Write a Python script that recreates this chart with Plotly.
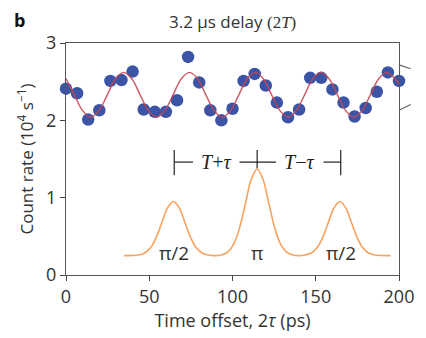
import plotly.graph_objects as go

# ---- data ----
offset_ps = [0, 6.67, 13.33, 20, 26.67, 33.33, 40, 46.67, 53.33, 60, 66.67, 73.33,
             80, 86.67, 93.33, 100, 106.67, 113.33, 120, 126.67, 133.33, 140,
             146.67, 153.33, 160, 166.67, 173.33, 180, 186.67, 193.33, 200]
count_rate = [2.41, 2.35, 2.01, 2.13, 2.51, 2.52, 2.63, 2.14, 2.11, 2.11, 2.26, 2.82,
              2.49, 2.13, 2.00, 2.15, 2.51, 2.60, 2.45, 2.23, 2.04, 2.14,
              2.55, 2.55, 2.40, 2.23, 2.05, 2.16, 2.37, 2.62, 2.51]

# fitted curve
fit_x = [0, 5.0, 10.0, 14.9, 19.8, 24.8, 29.7, 34.6, 39.6, 44.5, 49.5, 54.4, 59.3,
         64.3, 69.2, 74.2, 79.1, 84.0, 89.0, 93.9, 98.8, 103.8, 108.7, 113.7, 118.6,
         123.5, 128.5, 133.4, 138.3, 143.3, 148.2, 153.2, 158.1, 163.0, 168.0, 172.9,
         177.8, 182.8, 187.7, 192.7, 197.6, 200]
fit_y = [2.54, 2.33, 2.125, 2.04, 2.125, 2.33, 2.535, 2.62, 2.535, 2.33, 2.125, 2.04,
         2.125, 2.33, 2.535, 2.62, 2.535, 2.33, 2.125, 2.04, 2.125, 2.33, 2.535, 2.62,
         2.535, 2.33, 2.125, 2.04, 2.125, 2.33, 2.535, 2.62, 2.535, 2.33, 2.125, 2.04,
         2.125, 2.33, 2.535, 2.62, 2.535, 2.47]

# pulse sequence sketch
pulse_x = [35, 43.5, 47, 50.5, 54, 57.5, 61, 64.5, 68, 71.5, 75, 78.5, 82, 85.5,
           89.5, 93.8, 97.3, 100.8, 104.3, 107.8, 111.3, 114.8, 118.3, 121.8, 125.3,
           128.8, 132.3, 135.8, 139.7, 143.5, 147, 150.5, 154, 157.5, 161, 164.5, 168,
           171.5, 175, 178.5, 182, 185.5, 195]
pulse_y = [0.25, 0.258, 0.281, 0.345, 0.477, 0.675, 0.868, 0.95, 0.868, 0.675, 0.477,
           0.345, 0.281, 0.258, 0.25, 0.262, 0.299, 0.402, 0.614, 0.929, 1.238, 1.37,
           1.238, 0.929, 0.614, 0.402, 0.299, 0.262, 0.25, 0.258, 0.281, 0.345, 0.477,
           0.675, 0.868, 0.95, 0.868, 0.675, 0.477, 0.345, 0.281, 0.258, 0.25]

pulse_centers = [65.0, 114.8, 165.0]
pulse_labels = ["π/2", "π", "π/2"]
pulse_label_y = 0.29
bracket_y = 1.46
bracket_top = 1.615
bracket_bottom = 1.29
interval_labels = ["<i>T</i>+<i>τ</i>", "<i>T</i>−<i>τ</i>"]

x_ticks = [0, 50, 100, 150, 200]
y_ticks = [0, 1, 2, 3]

SANS = "Open Sans"
SERIF = "Liberation Serif"

fig = go.Figure()

fig.add_trace(go.Scatter(x=pulse_x, y=pulse_y, mode="lines",
                         line=dict(color="#f7a25f", width=1.6, shape="spline", smoothing=1.0),
                         hoverinfo="skip", showlegend=False))
fig.add_trace(go.Scatter(x=offset_ps, y=count_rate, mode="markers",
                         marker=dict(color="#3b54a6", size=12.5, line=dict(width=0)),
                         cliponaxis=False, showlegend=False))
fig.add_trace(go.Scatter(x=fit_x, y=fit_y, mode="lines",
                         line=dict(color="rgba(200,70,80,0.9)", width=1.4, shape="spline", smoothing=1.0),
                         hoverinfo="skip", showlegend=False))

# bracket T±τ built from the pulse centres
c0, c1, c2 = pulse_centers
shapes = []
for c in (c0, c2):
    shapes.append(dict(type="line", x0=c, x1=c, y0=bracket_bottom, y1=bracket_top,
                       line=dict(color="#222", width=1.2)))
shapes.append(dict(type="line", x0=c1, x1=c1, y0=1.38, y1=bracket_top,
                   line=dict(color="#222", width=1.2)))
segs = [(c0, c0 + 11.3), (c1 - 10.6, c1 + 11.3), (c2 - 10.3, c2)]
for a, b in segs:
    shapes.append(dict(type="line", x0=a, x1=b, y0=bracket_y, y1=bracket_y,
                       line=dict(color="#222", width=1.2)))
# axis-break marks on the right edge
shapes.append(dict(type="line", xref="paper", yref="paper", x0=1.0, x1=1.035,
                   y0=0.906, y1=0.889, line=dict(color="#666", width=1.2)))
shapes.append(dict(type="line", xref="paper", yref="paper", x0=1.0, x1=1.035,
                   y0=0.71, y1=0.735, line=dict(color="#666", width=1.2)))

annotations = []
mids = [(c0 + c1) / 2, (c1 + c2) / 2]
for m, t in zip(mids, interval_labels):
    annotations.append(dict(x=m, y=bracket_y, text=t, showarrow=False,
                            font=dict(family=SERIF, size=20, color="#222"),
                            xanchor="center", yanchor="middle"))
for c, t in zip(pulse_centers, pulse_labels):
    annotations.append(dict(x=c, y=pulse_label_y, text=t, showarrow=False,
                            font=dict(family=SANS, size=19, color="#333"),
                            xanchor="center", yanchor="middle"))
annotations.append(dict(xref="paper", yref="paper", x=-0.14, y=1.098, text="<b>b</b>",
                        showarrow=False, font=dict(family=SANS, size=18, color="#111"),
                        xanchor="center", yanchor="middle"))
annotations.append(dict(xref="paper", yref="paper", x=0.5, y=1.092,
                        text="3.2 μs delay <span style='font-family:Liberation Serif'>(2<i>T</i>)</span>",
                        showarrow=False, font=dict(family=SANS, size=17, color="#333"),
                        xanchor="center", yanchor="middle"))

fig.update_layout(
    width=426, height=338,
    margin=dict(l=66, r=17, t=43, b=60),
    paper_bgcolor="white", plot_bgcolor="white",
    font=dict(family=SANS, size=17, color="#333"),
    shapes=shapes, annotations=annotations,
    xaxis=dict(range=[0, 200], tickvals=x_ticks, ticks="outside", ticklen=5,
               tickcolor="#444", showline=True, linecolor="#555", linewidth=1,
               mirror=True, showgrid=False, zeroline=False,
               tickfont=dict(family=SANS, size=18, color="#333"),
               title=dict(text="Time offset, 2<i>τ</i> (ps)", standoff=6,
                          font=dict(family=SANS, size=18, color="#333"))),
    yaxis=dict(range=[0, 3], tickvals=y_ticks, ticks="outside", ticklen=5,
               tickcolor="#444", showline=True, linecolor="#555", linewidth=1,
               mirror=True, showgrid=False, zeroline=False,
               tickfont=dict(family=SANS, size=18, color="#333"),
               title=dict(text="Count rate (10<sup>4</sup> s<sup>−1</sup>)", standoff=8,
                          font=dict(family=SANS, size=17, color="#333"))),
)

fig.write_html("out.html")
